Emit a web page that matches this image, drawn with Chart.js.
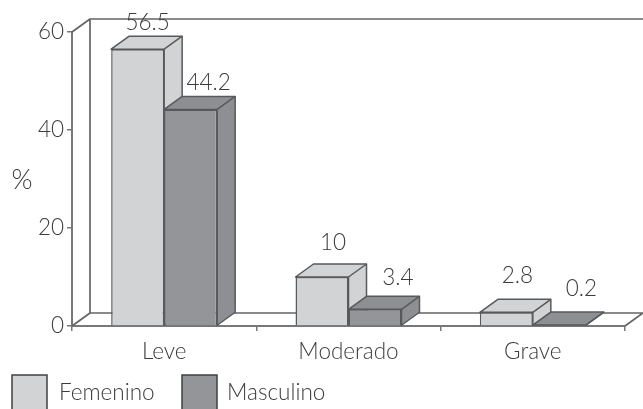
<!DOCTYPE html>
<html>
<head>
<meta charset="utf-8">
<style>html,body{margin:0;padding:0;background:#fff;overflow:hidden}canvas{display:block}</style>
<script src="https://cdn.jsdelivr.net/npm/chart.js@4"></script>
</head>
<body>
<div style="width:643px;height:409px"><canvas id="c" width="643" height="409"></canvas></div>
<script>
const categories = ["Leve", "Moderado", "Grave"];
const femenino = [56.5, 10, 2.8];
const masculino = [44.2, 3.4, 0.2];
const yTicks = [0, 20, 40, 60];
const axisTitle = "%";

const FONT = '300 22.5px Lato, "Open Sans", sans-serif';
const TEXT = '#3c3c3e';
const LINE = '#58595b';
const AXIS = '#77787b';
const DX = 18, DY = -13;
const labelShift = [
  [[10, -26], [11, -34], [11, -37]],
  [[18, -27], [23, -32], [22, -36]]
];
const sideColors = ['#d1d3d4', '#8d8f92'];

const threeD = {
  id: 'threeD',
  beforeDatasetsDraw(chart) {
    const { ctx, chartArea: a } = chart;
    ctx.save();
    ctx.lineJoin = 'round';
    // back wall and floor
    ctx.strokeStyle = '#636466'; ctx.lineWidth = 1.7;
    ctx.beginPath();
    ctx.moveTo(a.left, a.top); ctx.lineTo(a.left + DX, a.top + DY); ctx.lineTo(a.right + DX, a.top + DY);
    ctx.moveTo(a.left + DX, a.top + DY); ctx.lineTo(a.left + DX, a.bottom + DY); ctx.lineTo(a.right + DX, a.bottom + DY);
    ctx.moveTo(a.left, a.bottom); ctx.lineTo(a.left + DX, a.bottom + DY);
    ctx.moveTo(a.right, a.bottom); ctx.lineTo(a.right + DX, a.bottom + DY);
    ctx.stroke();
    // top and side faces
    ctx.lineWidth = 1.5;
    categories.forEach((_, i) => {
      chart.data.datasets.forEach((ds, d) => {
        const b = chart.getDatasetMeta(d).data[i];
        const l = b.x - b.width / 2, r = b.x + b.width / 2, t = b.y, bt = b.base;
        ctx.fillStyle = sideColors[d];
        ctx.beginPath();
        ctx.moveTo(l, t); ctx.lineTo(l + DX, t + DY); ctx.lineTo(r + DX, t + DY);
        ctx.lineTo(r + DX, bt + DY); ctx.lineTo(r, bt); ctx.lineTo(r, t); ctx.closePath();
        ctx.fill(); ctx.strokeStyle = LINE; ctx.stroke();
        ctx.beginPath(); ctx.moveTo(r, t); ctx.lineTo(r + DX, t + DY); ctx.stroke();
      });
    });
    ctx.restore();
  },
  afterDatasetsDraw(chart) {
    const { ctx } = chart;
    ctx.save();
    ctx.font = FONT; ctx.fillStyle = TEXT;
    ctx.textAlign = 'center'; ctx.textBaseline = 'middle';
    chart.data.datasets.forEach((ds, d) => {
      chart.getDatasetMeta(d).data.forEach((b, i) => {
        const [ox, oy] = labelShift[d][i];
        ctx.fillText(String(ds.data[i]), b.x + ox, b.y + oy);
      });
    });
    // axis title
    ctx.font = '300 27px Lato, "Open Sans", sans-serif';
    ctx.fillText(axisTitle, 22, 180);
    ctx.font = FONT;
    // legend
    const items = [[12, 59], [182, 227]];
    ctx.textAlign = 'left';
    chart.data.datasets.forEach((ds, d) => {
      const [bx, tx] = items[d];
      ctx.fillStyle = ds.backgroundColor;
      ctx.fillRect(bx, 375, 35, 36);
      ctx.strokeStyle = '#414042'; ctx.lineWidth = 1.5;
      ctx.strokeRect(bx, 375, 35, 36);
      ctx.fillStyle = TEXT;
      ctx.fillText(ds.label, tx, 393);
    });
    ctx.restore();
  }
};

new Chart(document.getElementById('c'), {
  type: 'bar',
  data: {
    labels: categories,
    datasets: [
      { label: 'Femenino', data: femenino, backgroundColor: '#d1d3d4', borderColor: LINE, borderWidth: 1.5 },
      { label: 'Masculino', data: masculino, backgroundColor: '#939598', borderColor: LINE, borderWidth: 1.5 }
    ]
  },
  options: {
    responsive: false,
    animation: false,
    layout: { padding: { top: 32, right: 18, left: 0, bottom: 0 } },
    categoryPercentage: 0.575,
    barPercentage: 1,
    plugins: { legend: { display: false }, tooltip: { enabled: false } },
    scales: {
      x: {
        afterFit(s) { s.height = 83; },
        grid: { drawOnChartArea: false, tickLength: 5, color: AXIS, lineWidth: 1.5 },
        border: { color: AXIS, width: 2 },
        ticks: { font: { family: 'Lato', weight: 300, size: 22.5 }, color: TEXT, padding: 7, maxRotation: 0 }
      },
      y: {
        min: 0, max: 60,
        afterFit(s) { s.width = 72; },
        afterBuildTicks(s) { s.ticks = yTicks.map(v => ({ value: v })); },
        grid: { drawOnChartArea: false, tickLength: 5, color: AXIS, lineWidth: 1.5 },
        border: { color: AXIS, width: 2 },
        ticks: { font: { family: 'Lato', weight: 300, size: 22.5 }, color: TEXT, padding: 3 }
      }
    }
  },
  plugins: [threeD]
});
</script>
</body>
</html>
